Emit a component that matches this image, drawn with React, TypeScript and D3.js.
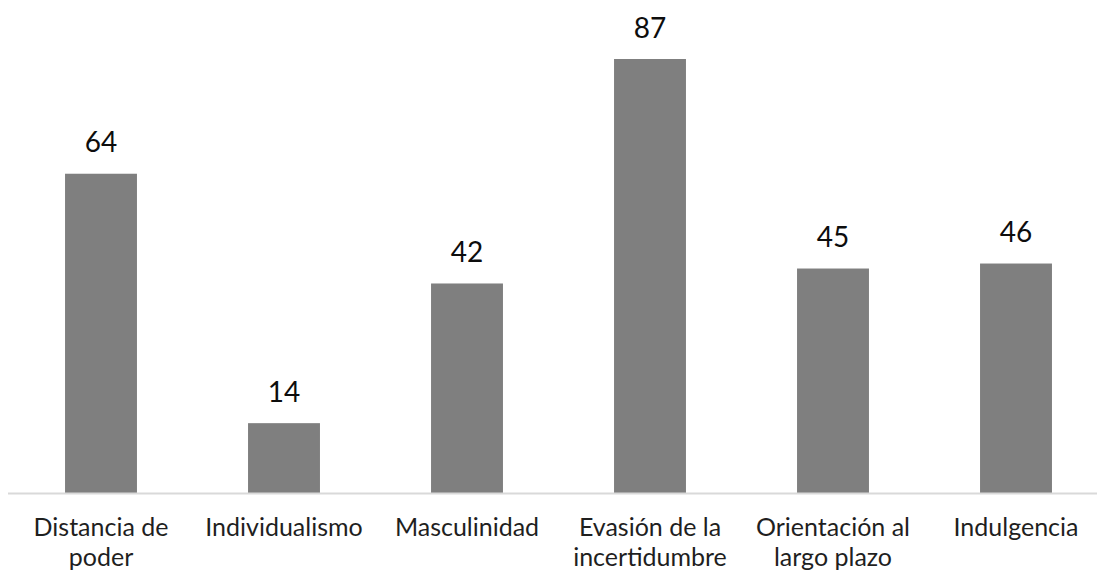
import React from "react";
import * as d3 from "d3";

const categories: string[][] = [
  ["Distancia de", "poder"],
  ["Individualismo"],
  ["Masculinidad"],
  ["Evasión de la", "incertidumbre"],
  ["Orientación al", "largo plazo"],
  ["Indulgencia"],
];
const values: number[] = [64, 14, 42, 87, 45, 46];

const W = 1097;
const H = 571;

export default function App() {
  const keys = categories.map((c) => c.join(" "));
  const x = d3
    .scaleBand<string>()
    .domain(keys)
    .range([9.5, 1107.5])
    .paddingInner(0.607)
    .paddingOuter(0.3035);
  const y = d3.scaleLinear().domain([0, 87]).range([493, 59]);
  const font = "Lato, 'Open Sans', sans-serif";
  return (
    <svg
      width={W}
      height={H}
      style={{ position: "absolute", left: 0, top: 0, background: "#fff" }}
    >
      {keys.map((k, i) => (
        <rect
          key={k}
          x={x(k)}
          y={y(values[i])}
          width={x.bandwidth()}
          height={y(0) - y(values[i])}
          fill="#7f7f7f"
        />
      ))}
      <line x1={8} x2={W} y1={493.5} y2={493.5} stroke="#d9d9d9" strokeWidth={2} />
      {keys.map((k, i) => (
        <text
          key={"v" + k}
          x={(x(k) as number) + x.bandwidth() / 2}
          y={y(values[i]) - 21.5}
          textAnchor="middle"
          fontFamily={font}
          fontSize={28}
          fill="#0d0d0d"
        >
          {values[i]}
        </text>
      ))}
      {categories.map((lines, i) => (
        <text
          key={"c" + i}
          textAnchor="middle"
          fontFamily={font}
          fontSize={25}
          fill="#1f1f1f"
        >
          {lines.map((l, j) => (
            <tspan
              key={j}
              x={(x(keys[i]) as number) + x.bandwidth() / 2}
              y={535.5 + j * 30}
            >
              {l}
            </tspan>
          ))}
        </text>
      ))}
    </svg>
  );
}
